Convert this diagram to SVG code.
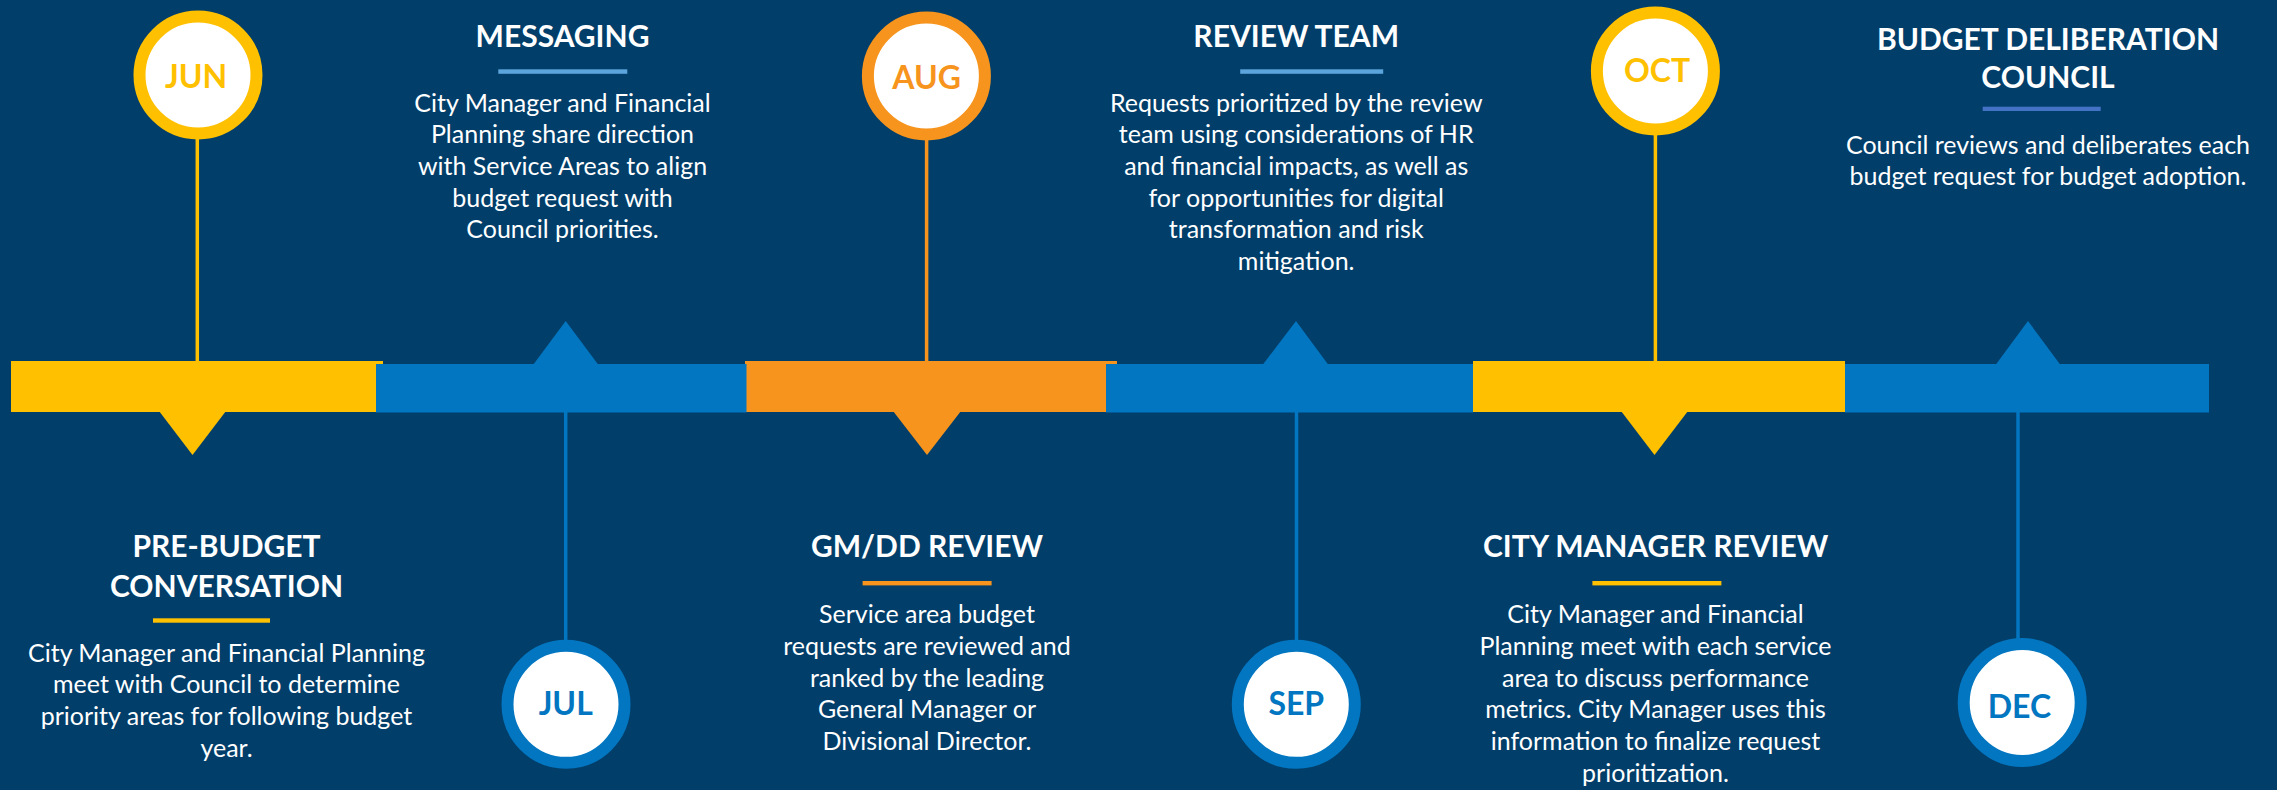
<svg xmlns="http://www.w3.org/2000/svg" width="2277" height="790" viewBox="0 0 2277 790">
  <style>
    .bg { fill: #013E6A; }
    .yel { fill: #FFC000; }
    .org { fill: #F7941D; }
    .blu { fill: #0276C0; }
    .stem-yel { stroke: #FFC000; stroke-width: 3.5; }
    .stem-org { stroke: #F7941D; stroke-width: 3.5; }
    .stem-blu { stroke: #0276C0; stroke-width: 3.5; }
    .ring { fill: #FFFFFF; stroke-width: 12; }
    .ring-yel { stroke: #FFC000; }
    .ring-org { stroke: #F7941D; }
    .ring-blu { stroke: #0276C0; }
    .month { font-family: Lato, "Liberation Sans", sans-serif; font-weight: 700; font-size: 32px; text-anchor: middle; }
    .head { font-family: Lato, "Liberation Sans", sans-serif; font-weight: 700; font-size: 30px; fill: #FFFFFF; text-anchor: middle; }
    .body { font-family: Lato, "Liberation Sans", sans-serif; font-weight: 400; font-size: 25px; fill: #FFFFFF; text-anchor: middle; }
  </style>

  <rect class="bg" x="0" y="0" width="2277" height="790"/>

  <!-- timeline band: warm segments first, blue segments laid over their left joins -->
  <g id="timeline">
    <rect class="yel" x="11" y="361" width="372" height="51"/>
    <polygon class="yel" points="159,411 226,411 192.5,455"/>
    <rect class="org" x="745" y="361" width="372" height="51"/>
    <polygon class="org" points="893,411 961,411 927,455"/>
    <rect class="yel" x="1473" y="361" width="372" height="51"/>
    <polygon class="yel" points="1621,411 1688,411 1654.5,455"/>

    <rect class="blu" x="376" y="364" width="370.5" height="48.5"/>
    <polygon class="blu" points="533,365 598.5,365 565.7,321"/>
    <rect class="blu" x="1106" y="364" width="367" height="48.5"/>
    <polygon class="blu" points="1262.5,365 1328.5,365 1296,321"/>
    <rect class="blu" x="1845" y="364" width="364" height="48.5"/>
    <polygon class="blu" points="1995.5,365 2060.5,365 2028,321"/>
  </g>

  <!-- stems joining each month marker to the band -->
  <g id="connectors">
    <line class="stem-yel" x1="197.3" y1="130" x2="197.3" y2="362"/>
    <line class="stem-blu" x1="565.7" y1="411" x2="565.7" y2="645"/>
    <line class="stem-org" x1="926.6" y1="130" x2="926.6" y2="362"/>
    <line class="stem-blu" x1="1296.5" y1="411" x2="1296.5" y2="645"/>
    <line class="stem-yel" x1="1655.4" y1="125" x2="1655.4" y2="362"/>
    <line class="stem-blu" x1="2018" y1="411" x2="2018" y2="645"/>
  </g>

  <!-- month markers -->
  <g id="jun">
    <circle class="ring ring-yel" cx="198" cy="75" r="58.5"/>
    <text class="month" x="196" y="87.7" fill="#FFC000">JUN</text>
  </g>
  <g id="jul">
    <circle class="ring ring-blu" cx="566" cy="704.3" r="58.5"/>
    <text class="month" x="565.7" y="715" fill="#0276C0">JUL</text>
  </g>
  <g id="aug">
    <circle class="ring ring-org" cx="926.4" cy="76" r="58.5"/>
    <text class="month" x="926.6" y="89.3" fill="#F7941D">AUG</text>
  </g>
  <g id="sep">
    <circle class="ring ring-blu" cx="1296.3" cy="704.3" r="58.5"/>
    <text class="month" x="1296.3" y="715" fill="#0276C0">SEP</text>
  </g>
  <g id="oct">
    <circle class="ring ring-yel" cx="1655.4" cy="71" r="58.5"/>
    <text class="month" x="1657" y="82.3" fill="#FFC000">OCT</text>
  </g>
  <g id="dec">
    <circle class="ring ring-blu" cx="2022.2" cy="702.5" r="58.5"/>
    <text class="month" x="2019.5" y="718.3" fill="#0276C0">DEC</text>
  </g>

  <!-- stage descriptions -->
  <g id="pre-budget">
    <text class="head" x="226.5" y="557.3">PRE-BUDGET</text>
    <text class="head" x="226.5" y="596.7">CONVERSATION</text>
    <rect x="153" y="618.3" width="117" height="4.4" fill="#FFC000"/>
    <text class="body" x="226.5" y="661.7">City Manager and Financial Planning</text>
    <text class="body" x="226.5" y="693.3">meet with Council to determine</text>
    <text class="body" x="226.5" y="725">priority areas for following budget</text>
    <text class="body" x="226.5" y="756.7">year.</text>
  </g>

  <g id="messaging">
    <text class="head" x="562.5" y="47">MESSAGING</text>
    <rect x="498.3" y="69.3" width="129" height="4.5" fill="#5BA4DC"/>
    <text class="body" x="562.5" y="111.7">City Manager and Financial</text>
    <text class="body" x="562.5" y="143.3">Planning share direction</text>
    <text class="body" x="562.5" y="175">with Service Areas to align</text>
    <text class="body" x="562.5" y="206.7">budget request with</text>
    <text class="body" x="562.5" y="238.3">Council priorities.</text>
  </g>

  <g id="gmdd-review">
    <text class="head" x="927" y="557.3">GM/DD REVIEW</text>
    <rect x="862.6" y="581" width="129" height="4.4" fill="#F7941D"/>
    <text class="body" x="927" y="623.3">Service area budget</text>
    <text class="body" x="927" y="655">requests are reviewed and</text>
    <text class="body" x="927" y="686.7">ranked by the leading</text>
    <text class="body" x="927" y="718.3">General Manager or</text>
    <text class="body" x="927" y="750">Divisional Director.</text>
  </g>

  <g id="review-team">
    <text class="head" x="1296.2" y="47">REVIEW TEAM</text>
    <rect x="1240.2" y="69.3" width="143" height="4.5" fill="#5BA4DC"/>
    <text class="body" x="1296.2" y="111.7">Requests prioritized by the review</text>
    <text class="body" x="1296.2" y="143.3">team using considerations of HR</text>
    <text class="body" x="1296.2" y="175">and financial impacts, as well as</text>
    <text class="body" x="1296.2" y="206.7">for opportunities for digital</text>
    <text class="body" x="1296.2" y="238.3">transformation and risk</text>
    <text class="body" x="1296.2" y="270">mitigation.</text>
  </g>

  <g id="city-manager-review">
    <text class="head" x="1655.6" y="557.3">CITY MANAGER REVIEW</text>
    <rect x="1592.4" y="581" width="129" height="4.4" fill="#FFC000"/>
    <text class="body" x="1655.5" y="623.3">City Manager and Financial</text>
    <text class="body" x="1655.5" y="655">Planning meet with each service</text>
    <text class="body" x="1655.5" y="686.7">area to discuss performance</text>
    <text class="body" x="1655.5" y="718.3">metrics. City Manager uses this</text>
    <text class="body" x="1655.5" y="750">information to finalize request</text>
    <text class="body" x="1655.5" y="781.7">prioritization.</text>
  </g>

  <g id="budget-deliberation">
    <text class="head" x="2048" y="50">BUDGET DELIBERATION</text>
    <text class="head" x="2048" y="88.3">COUNCIL</text>
    <rect x="1982.7" y="106.7" width="118" height="4.3" fill="#4472C4"/>
    <text class="body" x="2048" y="154">Council reviews and deliberates each</text>
    <text class="body" x="2048" y="185.3">budget request for budget adoption.</text>
  </g>
</svg>
